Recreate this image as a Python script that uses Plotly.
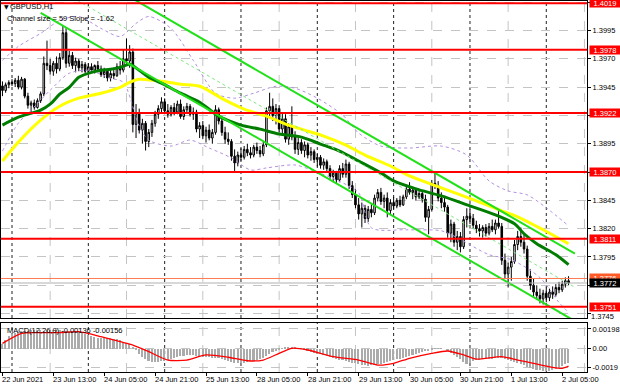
import plotly.graph_objects as go

# ---------------- data (H1 bars, index 0 = 22 Jun 2021 21:00) ----------------
opens = [
1.3946, 1.3942, 1.3947, 1.3949, 1.3948, 1.3951, 1.3945, 1.3952, 1.3937, 1.3929,
1.3931, 1.3927, 1.3933, 1.3939, 1.3966, 1.3964, 1.3959, 1.3966, 1.3961, 1.3971,
1.3993, 1.3966, 1.3973, 1.3964, 1.3968, 1.3962, 1.3965, 1.3959, 1.3963, 1.3960,
1.3964, 1.3961, 1.3956, 1.3959, 1.3953, 1.3957, 1.3955, 1.3963, 1.3960, 1.3970,
1.3968, 1.3976, 1.3912, 1.3922, 1.3907, 1.3913, 1.3897, 1.3905, 1.3913, 1.3921,
1.3926, 1.3932, 1.3924, 1.3921, 1.3927, 1.3923, 1.3930, 1.3919, 1.3925, 1.3928,
1.3921, 1.3923, 1.3908, 1.3911, 1.3902, 1.3907, 1.3900, 1.3905, 1.3925, 1.3915,
1.3905, 1.3899, 1.3897, 1.3884, 1.3878, 1.3885, 1.3883, 1.3890, 1.3887, 1.3885,
1.3892, 1.3889, 1.3886, 1.3894, 1.3924, 1.3928, 1.3920, 1.3926, 1.3908, 1.3917,
1.3899, 1.3910, 1.3901, 1.3890, 1.3896, 1.3889, 1.3894, 1.3885, 1.3888, 1.3881,
1.3883, 1.3876, 1.3879, 1.3873, 1.3866, 1.3869, 1.3863, 1.3873, 1.3868, 1.3877,
1.3858, 1.3850, 1.3841, 1.3833, 1.3838, 1.3829, 1.3837, 1.3834, 1.3847, 1.3852,
1.3844, 1.3847, 1.3836, 1.3843, 1.3840, 1.3845, 1.3841, 1.3848, 1.3855, 1.3852,
1.3854, 1.3848, 1.3851, 1.3846, 1.3830, 1.3837, 1.3860, 1.3858, 1.3847, 1.3843,
1.3839, 1.3816, 1.3824, 1.3808, 1.3813, 1.3804, 1.3828, 1.3831, 1.3829, 1.3823,
1.3820, 1.3818, 1.3821, 1.3816, 1.3822, 1.3819, 1.3825, 1.3822, 1.3792, 1.3780,
1.3786, 1.3791, 1.3806, 1.3813, 1.3808, 1.3802, 1.3778, 1.3770, 1.3764, 1.3761,
1.3758, 1.3763, 1.3759, 1.3764, 1.3762, 1.3768, 1.3766, 1.3771, 1.3774]

highs = [
1.3950, 1.3949, 1.3951, 1.3952, 1.3953, 1.3955, 1.3954, 1.3953, 1.3940, 1.3933,
1.3934, 1.3935, 1.3941, 1.3972, 1.3986, 1.3970, 1.3968, 1.3972, 1.3975, 1.3999,
1.3997, 1.3977, 1.3976, 1.3971, 1.3970, 1.3968, 1.3967, 1.3966, 1.3966, 1.3965,
1.3968, 1.3964, 1.3962, 1.3961, 1.3960, 1.3962, 1.3966, 1.3968, 1.3978, 1.3988,
1.3982, 1.3979, 1.3930, 1.3926, 1.3917, 1.3915, 1.3908, 1.3916, 1.3924, 1.3929,
1.3936, 1.3935, 1.3930, 1.3929, 1.3931, 1.3933, 1.3934, 1.3928, 1.3931, 1.3930,
1.3927, 1.3925, 1.3914, 1.3915, 1.3910, 1.3912, 1.3908, 1.3929, 1.3927, 1.3918,
1.3910, 1.3905, 1.3899, 1.3890, 1.3888, 1.3891, 1.3893, 1.3895, 1.3892, 1.3894,
1.3896, 1.3893, 1.3897, 1.3927, 1.3940, 1.3935, 1.3930, 1.3929, 1.3922, 1.3921,
1.3913, 1.3928, 1.3906, 1.3900, 1.3899, 1.3897, 1.3896, 1.3892, 1.3890, 1.3886,
1.3885, 1.3882, 1.3881, 1.3876, 1.3872, 1.3871, 1.3876, 1.3878, 1.3881, 1.3879,
1.3862, 1.3855, 1.3847, 1.3843, 1.3841, 1.3840, 1.3842, 1.3850, 1.3855, 1.3856,
1.3850, 1.3852, 1.3846, 1.3848, 1.3847, 1.3849, 1.3850, 1.3858, 1.3861, 1.3857,
1.3856, 1.3855, 1.3853, 1.3850, 1.3840, 1.3863, 1.3869, 1.3862, 1.3852, 1.3848,
1.3841, 1.3828, 1.3826, 1.3818, 1.3817, 1.3831, 1.3838, 1.3837, 1.3833, 1.3827,
1.3824, 1.3823, 1.3824, 1.3825, 1.3828, 1.3828, 1.3836, 1.3825, 1.3798, 1.3790,
1.3795, 1.3810, 1.3818, 1.3821, 1.3815, 1.3805, 1.3784, 1.3776, 1.3770, 1.3767,
1.3766, 1.3768, 1.3767, 1.3769, 1.3771, 1.3773, 1.3774, 1.3777, 1.3778]

lows = [
1.3937, 1.3940, 1.3944, 1.3946, 1.3945, 1.3943, 1.3943, 1.3935, 1.3926, 1.3922,
1.3925, 1.3926, 1.3931, 1.3937, 1.3960, 1.3956, 1.3955, 1.3957, 1.3959, 1.3969,
1.3962, 1.3963, 1.3961, 1.3958, 1.3959, 1.3958, 1.3957, 1.3956, 1.3958, 1.3957,
1.3959, 1.3954, 1.3953, 1.3950, 1.3950, 1.3952, 1.3954, 1.3956, 1.3958, 1.3964,
1.3962, 1.3905, 1.3900, 1.3904, 1.3895, 1.3889, 1.3892, 1.3901, 1.3910, 1.3917,
1.3922, 1.3921, 1.3918, 1.3919, 1.3920, 1.3921, 1.3917, 1.3916, 1.3922, 1.3919,
1.3916, 1.3905, 1.3900, 1.3899, 1.3896, 1.3898, 1.3895, 1.3903, 1.3912, 1.3902,
1.3895, 1.3894, 1.3880, 1.3871, 1.3875, 1.3880, 1.3881, 1.3884, 1.3882, 1.3883,
1.3886, 1.3883, 1.3884, 1.3892, 1.3918, 1.3915, 1.3912, 1.3905, 1.3902, 1.3896,
1.3894, 1.3898, 1.3886, 1.3885, 1.3886, 1.3883, 1.3882, 1.3880, 1.3878, 1.3875,
1.3873, 1.3872, 1.3870, 1.3863, 1.3861, 1.3860, 1.3861, 1.3865, 1.3865, 1.3855,
1.3847, 1.3838, 1.3828, 1.3821, 1.3825, 1.3826, 1.3830, 1.3832, 1.3844, 1.3841,
1.3838, 1.3830, 1.3833, 1.3837, 1.3838, 1.3839, 1.3840, 1.3846, 1.3850, 1.3846,
1.3845, 1.3846, 1.3843, 1.3826, 1.3815, 1.3835, 1.3855, 1.3844, 1.3838, 1.3835,
1.3812, 1.3808, 1.3804, 1.3801, 1.3799, 1.3802, 1.3821, 1.3824, 1.3820, 1.3816,
1.3813, 1.3812, 1.3813, 1.3814, 1.3817, 1.3815, 1.3820, 1.3788, 1.3776, 1.3768,
1.3774, 1.3789, 1.3801, 1.3804, 1.3798, 1.3774, 1.3766, 1.3760, 1.3757, 1.3754,
1.3753, 1.3755, 1.3756, 1.3758, 1.3760, 1.3763, 1.3764, 1.3768, 1.3770]

closes = [
1.3942, 1.3947, 1.3949, 1.3948, 1.3951, 1.3945, 1.3952, 1.3937, 1.3929, 1.3931,
1.3927, 1.3933, 1.3939, 1.3966, 1.3964, 1.3959, 1.3966, 1.3961, 1.3971, 1.3993,
1.3966, 1.3973, 1.3964, 1.3968, 1.3962, 1.3965, 1.3959, 1.3963, 1.3960, 1.3964,
1.3961, 1.3956, 1.3959, 1.3953, 1.3957, 1.3955, 1.3963, 1.3960, 1.3970, 1.3968,
1.3976, 1.3912, 1.3922, 1.3907, 1.3913, 1.3897, 1.3905, 1.3913, 1.3921, 1.3926,
1.3932, 1.3924, 1.3921, 1.3927, 1.3923, 1.3930, 1.3919, 1.3925, 1.3928, 1.3921,
1.3923, 1.3908, 1.3911, 1.3902, 1.3907, 1.3900, 1.3905, 1.3925, 1.3915, 1.3905,
1.3899, 1.3897, 1.3884, 1.3878, 1.3885, 1.3883, 1.3890, 1.3887, 1.3885, 1.3892,
1.3889, 1.3886, 1.3894, 1.3924, 1.3928, 1.3920, 1.3926, 1.3908, 1.3917, 1.3899,
1.3910, 1.3901, 1.3890, 1.3896, 1.3889, 1.3894, 1.3885, 1.3888, 1.3881, 1.3883,
1.3876, 1.3879, 1.3873, 1.3866, 1.3869, 1.3863, 1.3873, 1.3868, 1.3877, 1.3858,
1.3850, 1.3841, 1.3833, 1.3838, 1.3829, 1.3837, 1.3834, 1.3847, 1.3852, 1.3844,
1.3847, 1.3836, 1.3843, 1.3840, 1.3845, 1.3841, 1.3848, 1.3855, 1.3852, 1.3854,
1.3848, 1.3851, 1.3846, 1.3830, 1.3837, 1.3860, 1.3858, 1.3847, 1.3843, 1.3839,
1.3816, 1.3824, 1.3808, 1.3813, 1.3804, 1.3828, 1.3831, 1.3829, 1.3823, 1.3820,
1.3818, 1.3821, 1.3816, 1.3822, 1.3819, 1.3825, 1.3822, 1.3792, 1.3780, 1.3786,
1.3791, 1.3806, 1.3813, 1.3808, 1.3802, 1.3778, 1.3770, 1.3764, 1.3761, 1.3758,
1.3763, 1.3759, 1.3764, 1.3762, 1.3768, 1.3766, 1.3771, 1.3774, 1.3772]

# moving averages (read at sample bars)
ma_slow_idx = [0, 5, 12, 18, 24, 31, 37, 40, 43, 50, 56, 62, 70, 76, 83, 89, 95, 101,
               108, 114, 122, 128, 138, 149, 157, 162, 170, 178]
ma_slow = [1.38797, 1.38964, 1.39158, 1.39281, 1.39352, 1.39396, 1.39448, 1.39492,
           1.39519, 1.39501, 1.39475, 1.39457, 1.39334, 1.39255, 1.39193, 1.39123,
           1.39070, 1.39017, 1.38938, 1.38850, 1.38753, 1.38665, 1.38560, 1.38445,
           1.38357, 1.38304, 1.38190, 1.38067]
ma_fast_idx = [0, 5, 12, 15, 18, 21, 24, 28, 31, 34, 37, 40, 43, 46, 50, 56, 62, 68,
               75, 81, 87, 94, 100, 106, 112, 119, 123, 130, 138, 147, 155, 161, 164,
               168, 174, 178]
ma_fast = [1.39114, 1.39184, 1.39246, 1.39299, 1.39387, 1.39448, 1.39536, 1.39580,
           1.39598, 1.39607, 1.39624, 1.39651, 1.39598, 1.39536, 1.39484, 1.39396,
           1.39316, 1.39193, 1.39114, 1.39079, 1.39035, 1.39008, 1.38947, 1.38885,
           1.38797, 1.38692, 1.38621, 1.38551, 1.38489, 1.38401, 1.38322, 1.38243,
           1.38155, 1.38067, 1.37970, 1.37882]

band_up_idx = [0, 5, 12, 18, 24, 31, 37, 42, 46, 53, 60, 67, 73, 79, 86, 92, 99, 107,
               112, 119, 128, 138, 146, 153, 159, 165, 171, 178]
band_up = [1.39686, 1.39809, 1.39924, 1.40038, 1.40073, 1.39968, 1.39897, 1.40012,
           1.40073, 1.39968, 1.39686, 1.39396, 1.39352, 1.39396, 1.39457, 1.39440,
           1.39352, 1.39202, 1.39044, 1.38929, 1.38912, 1.38929, 1.38850, 1.38621,
           1.38533, 1.38498, 1.38384, 1.38225]
band_dn_idx = [0, 5, 9, 15, 21, 27, 34, 38, 43, 46, 53, 59, 65, 72, 78, 83, 92, 98,
               105, 112, 116, 127, 138, 143, 153, 160, 169, 175, 178]
band_dn = [1.38885, 1.39132, 1.39246, 1.39422, 1.39572, 1.39598, 1.39528, 1.39492,
           1.39105, 1.38982, 1.38929, 1.38982, 1.38912, 1.38824, 1.38718, 1.38736,
           1.38762, 1.38709, 1.38630, 1.38516, 1.38208, 1.38190, 1.38181, 1.38120,
           1.37970, 1.37926, 1.37768, 1.37548, 1.37460]

# regression channel (size 59, slope -1.62)
chan_idx = [12, 180]
chan_upper = [1.40700, 1.37979]
chan_mid = [1.40403, 1.37682]
chan_lower = [1.40105, 1.37384]

levels = [1.4019, 1.3978, 1.3922, 1.3870, 1.3811, 1.3751]
ask_price = 1.3776
bid_price = 1.3772

# MACD(12,26,9)
macd_main = [
0.00054, 0.00095, 0.00130, 0.00150, 0.00162, 0.00170, 0.00176, 0.00180, 0.00184, 0.00188,
0.00188, 0.00187, 0.00186, 0.00185, 0.00190, 0.00192, 0.00191, 0.00189, 0.00186, 0.00185,
0.00183, 0.00180, 0.00177, 0.00172, 0.00166, 0.00158, 0.00150, 0.00140, 0.00130, 0.00120,
0.00115, 0.00112, 0.00110, 0.00108, 0.00107, 0.00105, 0.00098, 0.00088, 0.00075, 0.00060,
0.00050, 0.00020, -0.00013, -0.00050, -0.00080, -0.00105, -0.00118, -0.00128, -0.00132, -0.00128,
-0.00124, -0.00120, -0.00114, -0.00105, -0.00095, -0.00085, -0.00075, -0.00068, -0.00063, -0.00062,
-0.00064, -0.00070, -0.00075, -0.00078, -0.00080, -0.00082, -0.00088, -0.00090, -0.00095, -0.00105,
-0.00112, -0.00118, -0.00128, -0.00138, -0.00144, -0.00145, -0.00140, -0.00132, -0.00125, -0.00118,
-0.00114, -0.00105, -0.00090, -0.00070, -0.00055, -0.00035, -0.00020, -0.00005, 0.00008, 0.00015,
0.00020, 0.00018, 0.00012, 0.00006, 0.00002, -0.00008, -0.00018, -0.00028, -0.00038, -0.00047,
-0.00055, -0.00062, -0.00072, -0.00082, -0.00094, -0.00100, -0.00108, -0.00115, -0.00122, -0.00131,
-0.00138, -0.00145, -0.00152, -0.00158, -0.00164, -0.00166, -0.00162, -0.00158, -0.00152, -0.00148,
-0.00142, -0.00135, -0.00125, -0.00115, -0.00105, -0.00097, -0.00088, -0.00078, -0.00068, -0.00056,
-0.00046, -0.00040, -0.00032, -0.00025, -0.00020, -0.00006, 0.00002, 0.00004, 0.00004, 0.00000,
-0.00025, -0.00045, -0.00065, -0.00080, -0.00105, -0.00130, -0.00147, -0.00140, -0.00125, -0.00114,
-0.00108, -0.00104, -0.00100, -0.00098, -0.00097, -0.00094, -0.00090, -0.00088, -0.00100, -0.00112,
-0.00125, -0.00132, -0.00140, -0.00150, -0.00165, -0.00180, -0.00192, -0.00200, -0.00208, -0.00215,
-0.00218, -0.00218, -0.00216, -0.00215, -0.00205, -0.00190, -0.00172, -0.00155, -0.00136]
sig_idx = [0, 6, 12, 18, 24, 31, 37, 41, 46, 52, 58, 64, 71, 77, 82, 87, 91, 96, 104,
           112, 118, 123, 128, 135, 140, 145, 149, 157, 162, 167, 173, 176, 178]
macd_signal = [0.00054, 0.00155, 0.00161, 0.00161, 0.00171, 0.00121, 0.00070, 0.00037,
               -0.00030, -0.00114, -0.00114, -0.00063, -0.00086, -0.00121, -0.00114,
               -0.00046, 0.00004, -0.00013, -0.00080, -0.00114, -0.00164, -0.00147,
               -0.00096, -0.00046, -0.00023, -0.00063, -0.00104, -0.00080, -0.00114,
               -0.00147, -0.00187, -0.00197, -0.00175]

x_tick_idx = [0, 16, 32, 48, 64, 80, 96, 112, 128, 144, 160, 176]
x_tick_text = ["22 Jun 2021", "23 Jun 13:00", "24 Jun 05:00", "24 Jun 21:00",
               "25 Jun 13:00", "28 Jun 05:00", "28 Jun 21:00", "29 Jun 13:00",
               "30 Jun 05:00", "30 Jun 21:00", "1 Jul 13:00", "2 Jul 05:00"]
price_ticks = [1.3745, 1.3770, 1.3795, 1.3820, 1.3845, 1.3870, 1.3895, 1.3920,
               1.3945, 1.3970, 1.3995, 1.4020]
# labels hidden behind the level boxes are left blank; 1.3745 is drawn just below its box
price_tick_text = ["", "", "1.3795", "1.3820", "1.3845", "", "1.3895", "",
                   "1.3945", "1.3970", "1.3995", ""]
bottom_tick_label = "1.3745"
macd_ticks = [0.00198, 0.0, -0.0019]
macd_tick_text = ["0.00198", "0.00", "-0.0019"]
day_sep_idx = [3, 27, 51, 75, 99, 123, 147, 171]
noon_idx = [15, 39, 63, 87, 111, 135, 159, 183]

# ---------------- figure ----------------
FONT = "Liberation Sans, Arial, DejaVu Sans"
FS = 7.5
W, H = 620, 388
ML, MR, MT, MB = 1, 33, 1, 16
plot_h = H - MT - MB
plot_w = W - ML - MR

def px_x(px):
    return (px - ML) / plot_w

def px_y(py):
    return (H - MB - py) / plot_h

idx = list(range(len(closes)))
fig = go.Figure()

band_line = dict(color="#b48fe2", width=1, dash="dot", shape="spline", smoothing=0.8)
fig.add_trace(go.Scatter(x=band_up_idx, y=band_up, mode="lines", xaxis="x", yaxis="y",
                         line=band_line, hoverinfo="skip", showlegend=False))
fig.add_trace(go.Scatter(x=band_dn_idx, y=band_dn, mode="lines", xaxis="x", yaxis="y",
                         line=band_line, hoverinfo="skip", showlegend=False))
fig.add_trace(go.Candlestick(x=idx, open=opens, high=highs, low=lows, close=closes,
                             xaxis="x", yaxis="y", whiskerwidth=0,
                             increasing=dict(line=dict(color="#000000", width=1), fillcolor="#ffffff"),
                             decreasing=dict(line=dict(color="#000000", width=1), fillcolor="#000000"),
                             hoverinfo="skip", showlegend=False))
fig.add_trace(go.Scatter(x=ma_slow_idx, y=ma_slow, mode="lines", xaxis="x", yaxis="y",
                         line=dict(color="#ffff00", width=3, shape="spline", smoothing=0.8),
                         hoverinfo="skip", showlegend=False))
fig.add_trace(go.Scatter(x=ma_fast_idx, y=ma_fast, mode="lines", xaxis="x", yaxis="y",
                         line=dict(color="#007d00", width=3, shape="spline", smoothing=0.8),
                         hoverinfo="skip", showlegend=False))
fig.add_trace(go.Scatter(x=chan_idx, y=chan_mid, mode="lines", xaxis="x", yaxis="y",
                         line=dict(color="#7ee87e", width=1, dash="dot"),
                         hoverinfo="skip", showlegend=False))
for ys in (chan_upper, chan_lower):
    fig.add_trace(go.Scatter(x=chan_idx, y=ys, mode="lines", xaxis="x", yaxis="y",
                             line=dict(color="#22e01a", width=2),
                             hoverinfo="skip", showlegend=False))

# MACD panel
fig.add_trace(go.Bar(x=idx, y=macd_main, xaxis="x2", yaxis="y2", width=0.5,
                     marker=dict(color="#ababab", line=dict(width=0)),
                     hoverinfo="skip", showlegend=False))
fig.add_trace(go.Scatter(x=sig_idx, y=macd_signal, mode="lines", xaxis="x2", yaxis="y2",
                         line=dict(color="#ff0000", width=1.3, shape="spline", smoothing=0.6),
                         hoverinfo="skip", showlegend=False))

shapes = []
for i in day_sep_idx:
    for yr in ("y domain", "y2 domain"):
        shapes.append(dict(type="line", xref="x", yref=yr, x0=i, x1=i, y0=0, y1=1,
                           line=dict(color="#202020", width=1, dash="dot"), layer="below"))
for i in noon_idx:
    for yr in ("y domain", "y2 domain"):
        shapes.append(dict(type="line", xref="x", yref=yr, x0=i, x1=i, y0=0, y1=1,
                           line=dict(color="#c4c4c4", width=1, dash="dash"), layer="below"))
for lv in levels:
    shapes.append(dict(type="line", xref="x domain", yref="y", x0=0, x1=1, y0=lv, y1=lv,
                       line=dict(color="#ff0000", width=2), layer="above"))
shapes.append(dict(type="line", xref="x domain", yref="y", x0=0, x1=1, y0=ask_price, y1=ask_price,
                   line=dict(color="#ff7a50", width=1), layer="above"))
shapes.append(dict(type="line", xref="x domain", yref="y", x0=0, x1=1, y0=bid_price, y1=bid_price,
                   line=dict(color="#b0b0b0", width=1), layer="above"))

ann = []
for lv in levels:
    ann.append(dict(xref="paper", x=1, xanchor="left", xshift=2, yref="y", y=lv,
                    yanchor="middle", text=f"{lv:.4f}", showarrow=False,
                    bgcolor="#ff0000", font=dict(color="#ffffff", size=FS, family=FONT),
                    width=30, height=8, borderpad=0))
ann.append(dict(xref="paper", x=1, xanchor="left", xshift=2, yref="y", y=ask_price,
                yanchor="middle", text=f"{ask_price:.4f}", showarrow=False,
                bgcolor="#ff5a28", font=dict(color="#ffffff", size=FS, family=FONT),
                width=30, height=8, borderpad=0))
ann.append(dict(xref="paper", x=1, xanchor="left", xshift=2, yref="y", y=bid_price,
                yanchor="middle", text=f"{bid_price:.4f}", showarrow=False,
                bgcolor="#000000", font=dict(color="#ffffff", size=FS, family=FONT),
                width=30, height=8, borderpad=0))
ann.append(dict(xref="paper", x=1, xanchor="left", xshift=3, yref="paper", y=px_y(316.5),
                yanchor="middle", text=bottom_tick_label, showarrow=False,
                font=dict(color="#000000", size=FS, family=FONT), borderpad=0))
for i, t in zip(x_tick_idx, x_tick_text):
    ann.append(dict(xref="x2", x=i, xanchor="left", xshift=-2, yref="paper", y=0,
                    yanchor="top", yshift=-1, text=t, showarrow=False,
                    font=dict(color="#000000", size=FS, family=FONT)))
ann.append(dict(xref="paper", x=px_x(2), xanchor="left", yref="paper", y=px_y(7),
                yanchor="middle", text="\u25bc", showarrow=False,
                font=dict(color="#000000", size=6, family="DejaVu Sans")))
ann.append(dict(xref="paper", x=px_x(8), xanchor="left", yref="paper", y=px_y(7),
                yanchor="middle", text="GBPUSD,H1", showarrow=False,
                font=dict(color="#000000", size=FS, family=FONT)))
ann.append(dict(xref="paper", x=px_x(5), xanchor="left", yref="paper", y=px_y(18),
                yanchor="middle", text="Channel size = 59 Slope = -1.62", showarrow=False,
                font=dict(color="#000000", size=FS, family=FONT)))
ann.append(dict(xref="paper", x=px_x(5), xanchor="left", yref="paper", y=px_y(330.5),
                yanchor="middle", text="MACD(12,26,9) -0.00136 -0.00156", showarrow=False,
                font=dict(color="#000000", size=FS, family=FONT)))

main_bottom = px_y(318)
macd_top = px_y(322.7)
xr = [-0.46, 183.8]

axis_common = dict(showline=True, mirror=True, linecolor="#000000", linewidth=1,
                   zeroline=False, tickfont=dict(color="#000000", size=FS, family=FONT))

fig.update_layout(
    width=W, height=H,
    margin=dict(l=ML, r=MR, t=MT, b=MB, autoexpand=False),
    paper_bgcolor="#ffffff", plot_bgcolor="#ffffff",
    font=dict(family=FONT, size=FS, color="#000000"),
    showlegend=False, bargap=0,
    xaxis=dict(domain=[0, 1], anchor="y", range=xr, showticklabels=False, showgrid=False,
               rangeslider=dict(visible=False), ticks="", **axis_common),
    yaxis=dict(domain=[main_bottom, 1], anchor="x", side="right", range=[1.37411, 1.40210],
               tickvals=price_ticks, ticktext=price_tick_text, ticks="outside", ticklen=3,
               tickcolor="#000000", showgrid=True, gridcolor="#c4c4c4", griddash="dash",
               gridwidth=1, automargin=False, **axis_common),
    xaxis2=dict(domain=[0, 1], anchor="y2", range=xr, matches="x", showticklabels=False,
                tickvals=x_tick_idx, ticks="outside", ticklen=3, tickcolor="#000000",
                showgrid=False, **axis_common),
    yaxis2=dict(domain=[0, macd_top], anchor="x2", side="right", range=[-0.00234, 0.00261],
                tickvals=macd_ticks, ticktext=macd_tick_text, ticks="outside", ticklen=3,
                tickcolor="#000000", showgrid=True, gridcolor="#c4c4c4", griddash="dash",
                gridwidth=1, automargin=False, **axis_common),
    shapes=shapes,
    annotations=ann,
)

fig.write_html("out.html", config={"displayModeBar": False},
               post_script="document.body.style.margin='0';document.body.style.padding='0';"
                           "document.documentElement.style.overflow='hidden';")
